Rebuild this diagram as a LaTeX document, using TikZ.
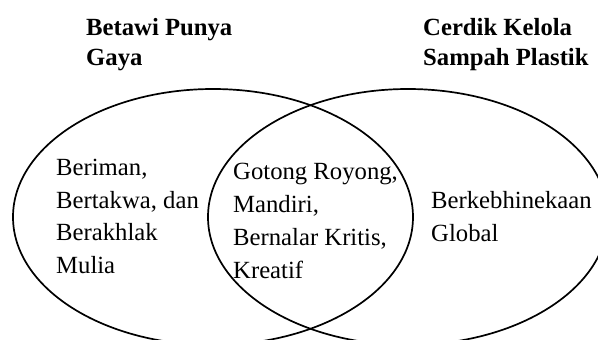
\documentclass[tikz,border=0pt]{standalone}
\usepackage{fontspec}
\setmainfont{Liberation Serif}
\begin{document}
\begin{tikzpicture}[x=1pt,y=-1pt,
  ring/.style={draw=black,line width=1.7pt},
  body/.style={anchor=base west,inner sep=0pt,font=\fontsize{24.7}{33}\selectfont},
  head/.style={anchor=base west,inner sep=0pt,font=\fontsize{24.7}{30}\selectfont\bfseries}]
\useasboundingbox (0,0) rectangle (598,340);
\begin{scope}
\clip (0,0) rectangle (598,340);
\draw[ring] (213,217) ellipse [x radius=200, y radius=128];
\draw[ring] (408,217) ellipse [x radius=200, y radius=128];
\end{scope}
\node[head] (tl) at (86,35) {\begin{tabular}[t]{@{}l@{}}Betawi Punya\\Gaya\end{tabular}};
\node[head] (tr) at (423,35) {\begin{tabular}[t]{@{}l@{}}Cerdik Kelola\\Sampah Plastik\end{tabular}};
\node[body] (l) at (56,175) {\begin{tabular}[t]{@{}l@{}}Beriman,\\Bertakwa, dan\\Berakhlak\\Mulia\end{tabular}};
\node[body] (m) at (233,179) {\begin{tabular}[t]{@{}l@{}}Gotong Royong,\\Mandiri,\\Bernalar Kritis,\\Kreatif\end{tabular}};
\node[body] (r) at (431,208) {\begin{tabular}[t]{@{}l@{}}Berkebhinekaan\\Global\end{tabular}};
\end{tikzpicture}
\end{document}
